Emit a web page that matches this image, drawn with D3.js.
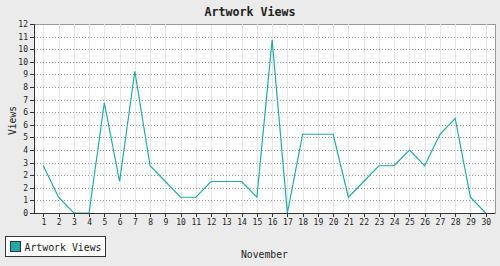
<!DOCTYPE html>
<html>
<head>
<meta charset="utf-8">
<script src="https://cdn.jsdelivr.net/npm/d3@7"></script>
<style>
  body { margin: 0; background: #ebebeb; }
  svg { display: block; }
  text { font-family: "DejaVu Sans Mono", monospace; fill: #222; }
</style>
</head>
<body>
<div id="chart"></div>
<script>
// data
const days = d3.range(1, 31);
const views = [3, 1, 0, 0, 7, 2, 9, 3, 2, 1, 1, 2, 2, 2, 1, 11, 0, 5, 5, 5, 1, 2, 3, 3, 4, 3, 5, 6, 1, 0];
const yTicks = d3.range(0, 16).map(i => i * 0.8);
const title = 'Artwork Views';
const seriesName = 'Artwork Views';

const W = 500, H = 266;
const margin = {top: 24, right: 5, bottom: 53, left: 34};
const width = W - margin.left - margin.right,
      height = H - margin.top - margin.bottom;
const lineCol = '#22aaaa';

const svg = d3.select('#chart').append('svg')
    .attr('width', W)
    .attr('height', H);

svg.append('rect').attr('width', W).attr('height', H).attr('fill', '#ebebeb');

const g = svg.append('g')
    .attr('transform', 'translate(' + margin.left + ',' + margin.top + ')');

// x scale, a bit of padding either side of day 1 and day 30
const pad = 0.61;
const x = d3.scaleLinear()
    .domain([1 - pad, 30 + pad])
    .range([0, width]);

const y = d3.scaleLinear()
    .domain([0, 12])
    .range([height, 0]);

// plot background + grey frame (top/right)
g.append('rect')
    .attr('width', width).attr('height', height)
    .attr('fill', '#fff')
    .attr('stroke', '#9a9a9a')
    .attr('shape-rendering', 'crispEdges');

// vertical grid
g.append('g')
  .selectAll('line')
  .data(days)
  .enter()
  .append('line')
    .attr('x1', d => Math.round(x(d)) + 0.5).attr('x2', d => Math.round(x(d)) + 0.5)
    .attr('y1', 0).attr('y2', height)
    .attr('stroke', '#e6e6e6');

// horizontal dotted grid
g.append('g')
  .selectAll('line')
  .data(yTicks.slice(1))
  .enter()
  .append('line')
    .attr('x1', 0).attr('x2', width)
    .attr('y1', d => Math.round(y(d)) + 0.5).attr('y2', d => Math.round(y(d)) + 0.5)
    .attr('stroke', '#999')
    .attr('stroke-dasharray', '1,2');

// the series
const line = d3.line()
    .x((d, i) => x(days[i]))
    .y(d => y(d));

g.append('path')
    .datum(views)
    .attr('d', line)
    .attr('fill', 'none')
    .attr('stroke', lineCol)
    .attr('stroke-width', 1.2);

// axes
const xAxis = g.append('g')
    .attr('transform', 'translate(0,' + height + ')')
    .call(d3.axisBottom(x).tickValues(days).tickFormat(d3.format('d')).tickSize(4).tickPadding(2));

const yAxis = g.append('g')
    .call(d3.axisLeft(y).tickValues(yTicks).tickFormat(d => Math.round(d)).tickSize(4).tickPadding(2));

[xAxis, yAxis].forEach(a => {
  a.select('.domain').attr('stroke', '#333').attr('shape-rendering', 'crispEdges');
  a.selectAll('.tick line').attr('stroke', '#333').attr('shape-rendering', 'crispEdges');
  a.selectAll('.tick text').attr('font-family', '"DejaVu Sans Mono", monospace').attr('font-size', 8).attr('fill', '#222');
});
xAxis.select('.domain').attr('d', 'M0,0.5H' + width);
yAxis.select('.domain').attr('d', 'M0.5,' + height + 'V0');

// title
svg.append('text')
    .attr('x', W / 2).attr('y', 16)
    .attr('text-anchor', 'middle')
    .attr('font-size', 12)
    .attr('font-weight', 'bold')
    .attr('textLength', 91)
    .attr('lengthAdjust', 'spacingAndGlyphs')
    .text(title);

// axis titles
svg.append('text')
    .attr('x', margin.left + width / 2).attr('y', 258)
    .attr('text-anchor', 'middle')
    .attr('font-size', 11)
    .attr('textLength', 47)
    .attr('lengthAdjust', 'spacingAndGlyphs')
    .text('November');

svg.append('text')
    .attr('transform', 'translate(15.5,' + (margin.top + height / 2 + 2) + ') rotate(-90)')
    .attr('text-anchor', 'middle')
    .attr('font-size', 11)
    .attr('textLength', 29)
    .attr('lengthAdjust', 'spacingAndGlyphs')
    .text('Views');

// legend
const legend = svg.append('g').attr('transform', 'translate(5.5,236.5)');
legend.append('rect')
    .attr('width', 100).attr('height', 20)
    .attr('fill', '#fff').attr('stroke', '#333');
legend.append('rect')
    .attr('x', 5).attr('y', 5)
    .attr('width', 10).attr('height', 10)
    .attr('fill', lineCol).attr('stroke', '#333');
legend.append('text')
    .attr('x', 19).attr('y', 14)
    .attr('font-size', 11)
    .attr('textLength', 77)
    .attr('lengthAdjust', 'spacingAndGlyphs')
    .text(seriesName);
</script>
</body>
</html>
